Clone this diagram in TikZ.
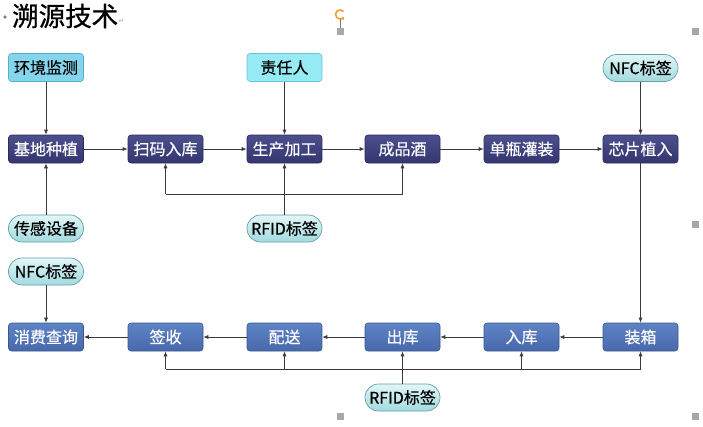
\documentclass[tikz,border=0pt]{standalone}
\usepackage{fontspec}
\setmainfont{Noto Sans CJK SC}
\newfontfamily\symfont{DejaVu Sans}
\newfontfamily\boxfont[FakeBold=0.4]{Noto Sans CJK SC}
\newfontfamily\titlefont[FakeBold=0.8]{Noto Sans CJK SC}
\usetikzlibrary{arrows.meta}
\definecolor{navyT}{HTML}{4C4F8E}
\definecolor{navyB}{HTML}{34366F}
\definecolor{navyD}{HTML}{2A2C5C}
\definecolor{blueT}{HTML}{5E84C6}
\definecolor{blueB}{HTML}{4868AA}
\definecolor{blueD}{HTML}{3A5790}
\definecolor{skyF}{HTML}{84D4EC}
\definecolor{skyD}{HTML}{55AECE}
\definecolor{cyanF}{HTML}{96EAF3}
\definecolor{cyanD}{HTML}{68C4D4}
\definecolor{pillT}{HTML}{E2F6F7}
\definecolor{pillB}{HTML}{A2DADE}
\definecolor{pillD}{HTML}{62A0A6}
\definecolor{lineC}{HTML}{3A3A3A}
\definecolor{handleC}{HTML}{A8A8A8}
\definecolor{rotC}{HTML}{F0A030}
\tikzset{
  x=1pt,y=-1pt,
  boxbase/.style={rectangle,rounded corners=3pt,minimum width=75pt,minimum height=28pt,
    inner sep=0pt,font=\boxfont\fontsize{16}{18}\selectfont},
  darkbox/.style={boxbase,top color=navyT,bottom color=navyB,draw=navyD,line width=0.6pt,text=white},
  bluebox/.style={boxbase,top color=blueT,bottom color=blueB,draw=blueD,line width=0.6pt,text=white},
  skybox/.style={boxbase,fill=skyF,draw=skyD,line width=0.6pt,text=black},
  cyanbox/.style={boxbase,fill=cyanF,draw=cyanD,line width=0.6pt,text=black},
  pillbox/.style={boxbase,rounded corners=13.5pt,minimum height=27pt,top color=pillT,bottom color=pillB,draw=pillD,line width=0.7pt,text=black},
  conn/.style={draw=lineC,line width=0.7pt},
  arr/.style={conn,-{Latex[length=5pt,width=4pt]}},
  handle/.style={fill=handleC,draw=none}
}
\begin{document}
\begin{tikzpicture}
\useasboundingbox (0,0) rectangle (703,426);
\fill[white] (0,0) rectangle (703,426);
% title
\fill[handleC!80!black] (5,17) circle (1.8pt);
\node[anchor=west,inner sep=0pt,font=\titlefont\fontsize{26.5}{28}\selectfont] (title) at (12,16) {溯源技术};
\node[anchor=west,inner sep=0pt,text=handleC,font=\symfont\fontsize{7}{8}\selectfont] (ret) at (title.east) [yshift=-5pt] {↵};
% rotate handle and selection handles
\draw[rotC,line width=1.6pt,-{Latex[length=3pt,width=4pt]}] (343.5,11.5) arc[start angle=40,end angle=330,radius=4.5pt];
\draw[handleC!70!black,line width=0.5pt] (340,19) -- (340,28);
\fill[handle] (336.5,27.5) rectangle (343.5,34.5);
\fill[handle] (691.5,27.5) rectangle (698.5,34.5);
\fill[handle] (691.5,220.5) rectangle (698.5,227.5);
\fill[handle] (691.5,413) rectangle (698.5,420);
\fill[handle] (336.5,413) rectangle (343.5,420);
% row 1
\node[skybox] (hjjc) at (46,67.5) {环境监测};
\node[cyanbox] (zrr) at (284.5,67.5) {责任人};
\node[pillbox] (nfc1) at (640.5,68) {NFC标签};
% row 2
\node[darkbox] (jdzz) at (46,149) {基地种植};
\node[darkbox] (smrk) at (165.5,149) {扫码入库};
\node[darkbox] (scjg) at (284.5,149) {生产加工};
\node[darkbox] (cpj) at (402.5,149) {成品酒};
\node[darkbox] (dpgz) at (521.5,149) {单瓶灌装};
\node[darkbox] (xpzr) at (640.5,149) {芯片植入};
% row 3
\node[pillbox] (cgsb) at (46,228.5) {传感设备};
\node[pillbox] (rfid1) at (284.5,228.5) {RFID标签};
\node[pillbox] (nfc2) at (46,271.5) {NFC标签};
% row 4
\node[bluebox] (xfcx) at (46,337) {消费查询};
\node[bluebox] (qs) at (165.5,337) {签收};
\node[bluebox] (ps) at (284.5,337) {配送};
\node[bluebox] (ck) at (402.5,337) {出库};
\node[bluebox] (rk) at (521.5,337) {入库};
\node[bluebox] (zx) at (640.5,337) {装箱};
\node[pillbox] (rfid2) at (402.5,397.5) {RFID标签};
% top connectors
\draw[arr] (hjjc) -- (jdzz);
\draw[arr] (zrr) -- (scjg);
\draw[arr] (nfc1) -- (xpzr);
\draw[arr] (jdzz) -- (smrk);
\draw[arr] (smrk) -- (scjg);
\draw[arr] (scjg) -- (cpj);
\draw[arr] (cpj) -- (dpgz);
\draw[arr] (dpgz) -- (xpzr);
\draw[arr] (cgsb) -- (jdzz);
\draw[arr] (rfid1) -- (scjg);
\coordinate (tb1) at (165.5,194);
\coordinate (tb2) at (402.5,194);
\draw[conn] (tb1) -- (tb2);
\draw[arr] (tb1) -- (smrk);
\draw[arr] (tb2) -- (cpj);
% right down
\draw[arr] (xpzr) -- (zx);
% bottom row
\draw[arr] (zx) -- (rk);
\draw[arr] (rk) -- (ck);
\draw[arr] (ck) -- (ps);
\draw[arr] (ps) -- (qs);
\draw[arr] (qs) -- (xfcx);
\draw[arr] (nfc2) -- (xfcx);
\draw[arr] (rfid2) -- (ck);
\coordinate (bb1) at (165.5,369);
\coordinate (bb2) at (284.5,369);
\coordinate (bb4) at (521.5,369);
\coordinate (bb5) at (640.5,369);
\draw[conn] (bb1) -- (bb5);
\draw[arr] (bb1) -- (qs);
\draw[arr] (bb2) -- (ps);
\draw[arr] (bb4) -- (rk);
\draw[arr] (bb5) -- (zx);
\end{tikzpicture}
\end{document}
